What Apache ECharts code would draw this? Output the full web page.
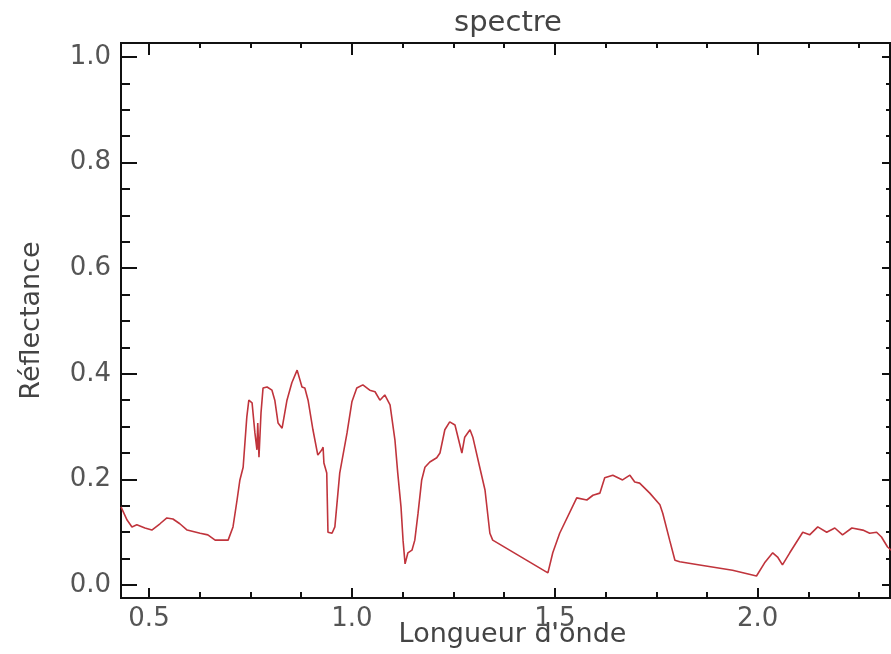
<!DOCTYPE html>
<html lang="fr">
	<head>
		<meta charset="UTF-8"/>
		<title>spectre</title>
		<script src="https://cdn.jsdelivr.net/npm/echarts@6.0.0/dist/echarts.min.js"></script>
		<style>
			html, body { margin: 0; padding: 0; background: #fff; }
		</style>
	</head>
	<body>
		<div id="main" style="width: 891px;height: 654px;"></div>
		<script type="text/javascript">
			// longueur d'onde (µm) et réflectance
			var wavelengths = [
				0.431, 0.446, 0.458, 0.470, 0.490, 0.507, 0.527, 0.544, 0.559, 0.576,
				0.594, 0.626, 0.645, 0.663, 0.695, 0.707, 0.717, 0.724, 0.732, 0.741,
				0.746, 0.754, 0.761, 0.766, 0.768, 0.771, 0.776, 0.781, 0.791, 0.803,
				0.810, 0.818, 0.828, 0.840, 0.852, 0.865, 0.869, 0.877, 0.884, 0.892,
				0.904, 0.916, 0.926, 0.929, 0.931, 0.938, 0.941, 0.951, 0.958, 0.970,
				0.988, 1.000, 1.012, 1.027, 1.044, 1.057, 1.069, 1.081, 1.094, 1.106,
				1.113, 1.121, 1.126, 1.131, 1.138, 1.148, 1.155, 1.163, 1.172, 1.180,
				1.192, 1.209, 1.217, 1.229, 1.241, 1.254, 1.271, 1.278, 1.291, 1.298,
				1.315, 1.328, 1.340, 1.347, 1.483, 1.495, 1.512, 1.554, 1.579, 1.594,
				1.611, 1.623, 1.643, 1.667, 1.685, 1.697, 1.709, 1.734, 1.759, 1.766,
				1.783, 1.796, 1.808, 1.857, 1.938, 1.997, 2.017, 2.037, 2.049, 2.061,
				2.079, 2.111, 2.128, 2.148, 2.170, 2.190, 2.209, 2.232, 2.259, 2.276,
				2.293, 2.305, 2.320, 2.335
			];
			var reflectance = [
				0.148, 0.123, 0.110, 0.114, 0.108, 0.104, 0.116, 0.127, 0.125, 0.116,
				0.104, 0.098, 0.095, 0.085, 0.085, 0.110, 0.161, 0.199, 0.223, 0.318,
				0.350, 0.345, 0.288, 0.256, 0.307, 0.242, 0.326, 0.373, 0.375, 0.369,
				0.350, 0.307, 0.297, 0.350, 0.383, 0.407, 0.409, 0.375, 0.373, 0.350,
				0.294, 0.246, 0.256, 0.261, 0.231, 0.212, 0.100, 0.098, 0.110, 0.212,
				0.288, 0.347, 0.373, 0.379, 0.369, 0.366, 0.350, 0.360, 0.341, 0.275,
				0.212, 0.148, 0.085, 0.040, 0.061, 0.066, 0.085, 0.136, 0.199, 0.223,
				0.233, 0.241, 0.250, 0.294, 0.309, 0.303, 0.250, 0.280, 0.294, 0.280,
				0.223, 0.180, 0.098, 0.085, 0.023, 0.061, 0.098, 0.165, 0.161, 0.170,
				0.174, 0.203, 0.208, 0.199, 0.208, 0.195, 0.193, 0.174, 0.152, 0.136,
				0.085, 0.047, 0.044, 0.038, 0.028, 0.017, 0.042, 0.061, 0.053, 0.038,
				0.061, 0.100, 0.095, 0.110, 0.100, 0.108, 0.095, 0.108, 0.104, 0.098,
				0.100, 0.091, 0.072, 0.062
			];
			// graduations
			var xMajorTicks = [0.5, 1.0, 1.5, 2.0];
			var xMinorTicks = [0.5, 0.625, 0.75, 0.875, 1.0, 1.125, 1.25, 1.375, 1.5,
				1.625, 1.75, 1.875, 2.0, 2.125, 2.25];
			var yMajorTicks = [0.0, 0.2, 0.4, 0.6, 0.8, 1.0];
			var yMinorTicks = [0.0, 0.05, 0.1, 0.15, 0.2, 0.25, 0.3, 0.35, 0.4, 0.45, 0.5,
				0.55, 0.6, 0.65, 0.7, 0.75, 0.8, 0.85, 0.9, 0.95, 1.0];

			var xMin = 0.431, xMax = 2.326;
			var yMin = -0.0246, yMax = 1.0265;
			var font = 'DejaVu Sans';

			function makeAxis(pos, ticks, len, labels, isX) {
				return {
					type: 'value',
					position: pos,
					min: isX ? xMin : yMin,
					max: isX ? xMax : yMax,
					axisLine: { show: true, onZero: false, lineStyle: { color: '#111', width: 2 } },
					axisTick: { show: true, inside: true, length: len, customValues: ticks,
						lineStyle: { color: '#111', width: 2 } },
					axisLabel: labels ? {
						customValues: ticks,
						color: '#555',
						fontFamily: font,
						fontSize: 26,
						margin: isX ? 8 : 10,
						formatter: function (v) { return v.toFixed(1); }
					} : { show: false },
					splitLine: { show: false }
				};
			}

			var xBottom = makeAxis('bottom', xMajorTicks, 10, true, true);
			xBottom.name = "Longueur d'onde";
			xBottom.nameLocation = 'middle';
			xBottom.nameGap = 23;
			xBottom.nameMoveOverlap = false;
			xBottom.nameTextStyle = { color: '#444', fontFamily: font, fontSize: 27, padding: [0, 0, 0, 14] };

			var yLeft = makeAxis('left', yMajorTicks, 16, true, false);
			yLeft.name = 'Réflectance';
			yLeft.nameLocation = 'middle';
			yLeft.nameGap = 76;
			yLeft.nameMoveOverlap = false;
			yLeft.nameTextStyle = { color: '#444', fontFamily: font, fontSize: 27 };

			var myChart = echarts.init(document.getElementById('main'));
			var option = {
				backgroundColor: '#fff',
				animation: false,
				title: {
					text: 'spectre',
					left: 503,
					textAlign: 'center',
					top: 4,
					textStyle: { color: '#444', fontFamily: font, fontSize: 29, fontWeight: 'normal' }
				},
				grid: { left: 121, right: 1, top: 43, bottom: 56, outerBoundsMode: 'none' },
				xAxis: [
					xBottom,
					makeAxis('bottom', xMinorTicks, 6, false, true),
					makeAxis('top', xMajorTicks, 12, false, true),
					makeAxis('top', xMinorTicks, 5, false, true)
				],
				yAxis: [
					yLeft,
					makeAxis('left', yMinorTicks, 9, false, false),
					makeAxis('right', yMajorTicks, 8, false, false),
					makeAxis('right', yMinorTicks, 4, false, false)
				],
				series: [
					{
						name: 'spectre',
						type: 'line',
						xAxisIndex: 0,
						yAxisIndex: 0,
						showSymbol: false,
						data: wavelengths.map(function (w, i) { return [w, reflectance[i]]; }),
						lineStyle: { color: '#c0343c', width: 1.6 }
					}
				]
			};
			myChart.setOption(option);
		</script>
	</body>
</html>
